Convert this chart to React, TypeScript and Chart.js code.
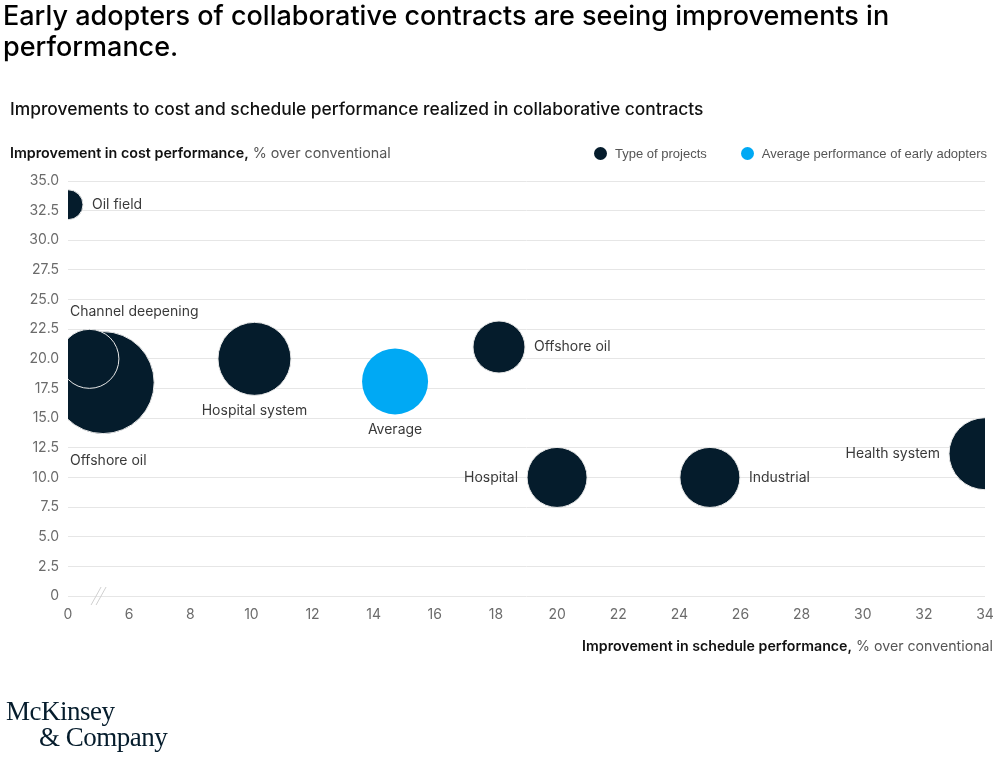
import React, { useEffect, useRef } from "react";
import { Chart, registerables, BubbleController } from "chart.js";

Chart.register(...registerables);
// Do not let bubble radii pad the chart area (the reference clips bubbles at the plot edges).
(BubbleController.prototype as any).getMaxOverflow = function () {
  return false;
};

// ---- Data ----
// Schedule values are in axis units of the broken x-axis (the "0" tick sits where 4 would be).
const projectNames = ["Oil field", "Offshore oil", "Channel deepening", "Hospital system", "Offshore oil", "Hospital", "Industrial", "Health system"];
const projectSchedule = [4, 5.15, 4.7, 10.1, 18.1, 20, 25, 34];
const projectCost = [33, 18, 20, 20, 21, 10, 10, 12];
const projectSize = [15, 51, 29.5, 36.5, 26, 30, 30, 36];
const projectLabelAnchor = ["right", "belowLeft", "aboveLeft", "below", "right", "left", "right", "left"];

const averageName = ["Average"];
const averageSchedule = [14.7];
const averageCost = [18.1];
const averageSize = [33];
const averageLabelAnchor = ["below"];

const xTickValues = [4, 6, 8, 10, 12, 14, 16, 18, 20, 22, 24, 26, 28, 30, 32, 34];
const xTickLabels = ["0", "6", "8", "10", "12", "14", "16", "18", "20", "22", "24", "26", "28", "30", "32", "34"];

const seriesNames = ["Type of projects", "Average performance of early adopters"];
const seriesColors = ["#051C2C", "#00A9F4"];

const FONT = "Inter, 'Liberation Sans', Arial, sans-serif";
const LEGEND_FONT = "'Liberation Sans', Arial, sans-serif";

const labelPlugin = {
  id: "bubbleLabels",
  afterDatasetsDraw(chart: any) {
    const ctx = chart.ctx;
    const area = chart.chartArea;
    ctx.save();
    ctx.font = `14px ${FONT}`;
    ctx.fillStyle = "#3a3a3a";
    ctx.textBaseline = "middle";
    chart.data.datasets.forEach((ds: any, di: number) => {
      const meta = chart.getDatasetMeta(di);
      meta.data.forEach((el: any, i: number) => {
        const r = ds.data[i].r;
        const text = ds.labels[i];
        const anchor = ds.anchors[i];
        const x = el.x;
        const y = el.y;
        if (anchor === "right") {
          ctx.textAlign = "left";
          ctx.fillText(text, x + r + 9, y);
        } else if (anchor === "left") {
          ctx.textAlign = "right";
          ctx.fillText(text, x - r - 9, y);
        } else if (anchor === "below") {
          ctx.textAlign = "center";
          ctx.fillText(text, x, y + r + 15);
        } else if (anchor === "belowLeft") {
          ctx.textAlign = "left";
          ctx.fillText(text, area.left + 2, y + r + 27);
        } else if (anchor === "aboveLeft") {
          ctx.textAlign = "left";
          ctx.fillText(text, area.left + 2, y - r - 18);
        }
      });
    });
    ctx.restore();
  },
};

const breakPlugin = {
  id: "axisBreak",
  afterDraw(chart: any) {
    const xs = chart.scales.x;
    const ys = chart.scales.y;
    const ctx = chart.ctx;
    const cx = (xs.getPixelForValue(xTickValues[0]) + xs.getPixelForValue(xTickValues[1])) / 2;
    const cy = ys.getPixelForValue(0);
    ctx.save();
    ctx.strokeStyle = "#d0d0d0";
    ctx.lineWidth = 1;
    [-2.5, 2.5].forEach((dx) => {
      ctx.beginPath();
      ctx.moveTo(cx + dx - 5, cy + 9);
      ctx.lineTo(cx + dx + 5, cy - 9);
      ctx.stroke();
    });
    ctx.restore();
  },
};

export default function App() {
  const ref = useRef<HTMLCanvasElement | null>(null);

  useEffect(() => {
    if (!ref.current) return;
    const chart = new Chart(ref.current, {
      type: "bubble",
      data: {
        datasets: [
          {
            label: seriesNames[0],
            data: projectSchedule.map((x, i) => ({ x, y: projectCost[i], r: projectSize[i] })),
            backgroundColor: seriesColors[0],
            borderColor: "#e8e8e8",
            borderWidth: 1,
            hoverBorderWidth: 1,
            clip: 0,
            labels: projectNames,
            anchors: projectLabelAnchor,
          } as any,
          {
            label: seriesNames[1],
            data: averageSchedule.map((x, i) => ({ x, y: averageCost[i], r: averageSize[i] })),
            backgroundColor: seriesColors[1],
            borderColor: seriesColors[1],
            borderWidth: 0,
            clip: 0,
            labels: averageName,
            anchors: averageLabelAnchor,
          } as any,
        ],
      },
      options: {
        responsive: false,
        animation: false,
        devicePixelRatio: 1,
        layout: { padding: { top: 181, right: 15, left: 0, bottom: 0 } },
        plugins: {
          legend: { display: false },
          tooltip: { enabled: false },
          title: { display: false },
        },
        scales: {
          x: {
            type: "linear",
            min: 4,
            max: 34,
            afterFit: (s: any) => {
              s.height = 161;
              s.paddingLeft = 0;
              s.paddingRight = 0;
            },
            afterBuildTicks: (s: any) => {
              s.ticks = xTickValues.map((v) => ({ value: v }));
            },
            ticks: {
              color: "#6b6b6b",
              font: { family: FONT, size: 14 },
              padding: 10,
              maxRotation: 0,
              autoSkip: false,
              callback: (v: any) => {
                const idx = xTickValues.indexOf(Number(v));
                return idx >= 0 ? xTickLabels[idx] : "";
              },
            },
            grid: { display: false, drawTicks: false },
            border: { display: false },
          },
          y: {
            type: "linear",
            min: 0,
            max: 35,
            afterFit: (s: any) => {
              s.width = 68;
            },
            ticks: {
              stepSize: 2.5,
              color: "#6b6b6b",
              font: { family: FONT, size: 14 },
              padding: 9,
              callback: (v: any) => (Number(v) === 0 ? "0" : Number(v).toFixed(1)),
            },
            grid: { color: "#e6e6e6", lineWidth: 1, drawTicks: false },
            border: { display: false },
          },
        },
      },
      plugins: [labelPlugin, breakPlugin],
    });
    return () => chart.destroy();
  }, []);

  return (
    <div style={{ position: "absolute", left: 0, top: 0, width: 1000, height: 757, background: "#fff", fontFamily: FONT, overflow: "hidden" }}>
      <canvas ref={ref} width={1000} height={757} style={{ position: "absolute", left: 0, top: 0, width: 1000, height: 757 }} />
      <div style={{ position: "absolute", left: 3, top: 0, width: 910, fontSize: 27, lineHeight: "31px", fontWeight: 500, color: "#000" }}>
        Early adopters of collaborative contracts are seeing improvements in performance.
      </div>
      <div style={{ position: "absolute", left: 10, top: 98, fontSize: 17.4, lineHeight: "22px", fontWeight: 500, color: "#111", whiteSpace: "nowrap" }}>
        Improvements to cost and schedule performance realized in collaborative contracts
      </div>
      <div style={{ position: "absolute", left: 10, top: 144, fontSize: 14.3, lineHeight: "18px", color: "#555", whiteSpace: "nowrap" }}>
        <span style={{ fontWeight: 600, color: "#111" }}>Improvement in cost performance,</span> % over conventional
      </div>
      <div style={{ position: "absolute", right: 13, top: 145, fontFamily: LEGEND_FONT, fontSize: 13, lineHeight: "17px", color: "#555", display: "flex", alignItems: "center", whiteSpace: "nowrap" }}>
        {seriesNames.map((n, i) => (
          <span key={n} style={{ display: "inline-flex", alignItems: "center", marginLeft: i === 0 ? 0 : 34 }}>
            <span style={{ width: 13, height: 13, borderRadius: "50%", background: seriesColors[i], marginRight: 8, display: "inline-block" }} />
            {n}
          </span>
        ))}
      </div>
      <div style={{ position: "absolute", right: 7, top: 637, fontSize: 14.2, lineHeight: "18px", color: "#555", whiteSpace: "nowrap" }}>
        <span style={{ fontWeight: 600, color: "#111" }}>Improvement in schedule performance,</span> % over conventional
      </div>
      <div style={{ position: "absolute", left: 6, top: 698, fontFamily: "'Liberation Serif', 'DejaVu Serif', serif", fontSize: 27, lineHeight: "26px", color: "#051C2C", letterSpacing: -0.5 }}>
        <div>McKinsey</div>
        <div style={{ paddingLeft: 33 }}>&amp; Company</div>
      </div>
    </div>
  );
}
